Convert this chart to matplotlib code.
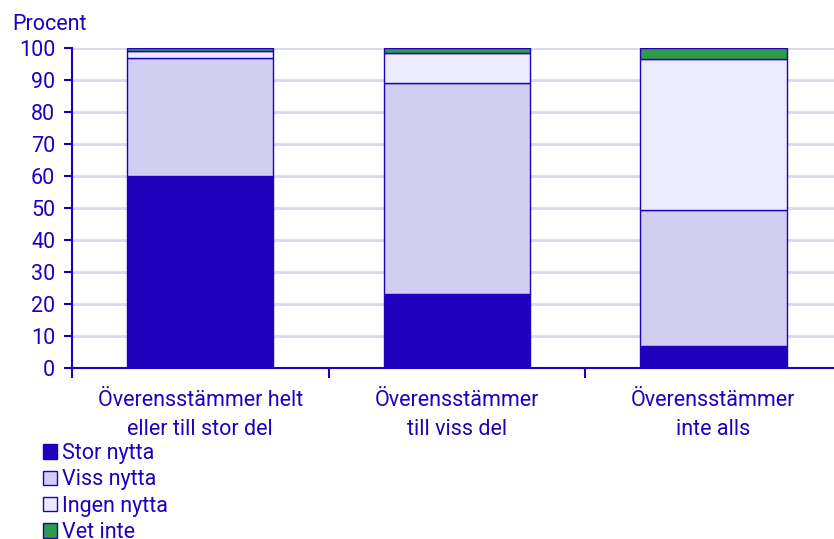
import matplotlib
matplotlib.use("Agg")
import matplotlib.pyplot as plt
from matplotlib.patches import Patch
import numpy as np

categories = ["Överensstämmer helt\neller till stor del", "Överensstämmer\ntill viss del", "Överensstämmer\ninte alls"]
series_names = ["Stor nytta", "Viss nytta", "Ingen nytta", "Vet inte"]
stor = [60, 23, 7]
viss = [37, 66, 42.4]
ingen = [2, 9.5, 47.2]
vet_inte = [1, 1.5, 3.4]
yticks = [0, 10, 20, 30, 40, 50, 60, 70, 80, 90, 100]

colors = ["#1E00BE", "#D2CEF1", "#ECEBFD", "#2F9A47"]
text_col = "#1E00BE"
fs = 15.5

plt.rcParams['font.family'] = ['Roboto', 'DejaVu Sans']

fig = plt.figure(figsize=(8.34, 5.39), dpi=100)
ax = fig.add_axes([72/834, 1-368/539, 1-72/834, (368-48)/539])

x = np.arange(len(categories))
bottom = np.zeros(len(categories))
for vals, col in zip([stor, viss, ingen, vet_inte], colors):
    ax.bar(x, vals, width=0.57, bottom=bottom, color=col, edgecolor=text_col, linewidth=1.0, zorder=3)
    bottom += np.array(vals)

ax.set_ylim(0, 100)
ax.set_xlim(-0.5, 2.47)
ax.set_yticks(yticks)
ax.yaxis.grid(True, color="#D8D8F2", linewidth=2, zorder=0)
ax.set_axisbelow(True)
for s in ["top", "right"]:
    ax.spines[s].set_visible(False)
for s in ["left", "bottom"]:
    ax.spines[s].set_color(text_col)
    ax.spines[s].set_linewidth(1.5)

ax.set_xticks([-0.5, 0.5, 1.5], minor=False)
ax.set_xticklabels([])
ax.set_xticks(x, minor=True)
ax.set_xticklabels(categories, minor=True, fontsize=fs, color=text_col, linespacing=1.5)
ax.tick_params(axis='x', which='major', length=7, width=1.5, color=text_col, direction='out')
ax.tick_params(axis='x', which='minor', length=0, pad=16)
ax.tick_params(axis='y', length=6, width=1.5, color=text_col, labelcolor=text_col, labelsize=fs, pad=6)

fig.text(12/834, 1-24/539, "Procent", fontsize=fs, color=text_col, va='center', ha='left')

handles = [Patch(facecolor=c, edgecolor=text_col, linewidth=1.0) for c in colors]
leg = fig.legend(handles, series_names, loc='upper left', bbox_to_anchor=(43/834, 1-443/539),
                 frameon=False, fontsize=fs, handlelength=0.65, handleheight=0.65,
                 handletextpad=0.25, labelspacing=0.25, borderpad=0, borderaxespad=0)
for t in leg.get_texts():
    t.set_color(text_col)

fig.savefig("out.png", dpi=100)
